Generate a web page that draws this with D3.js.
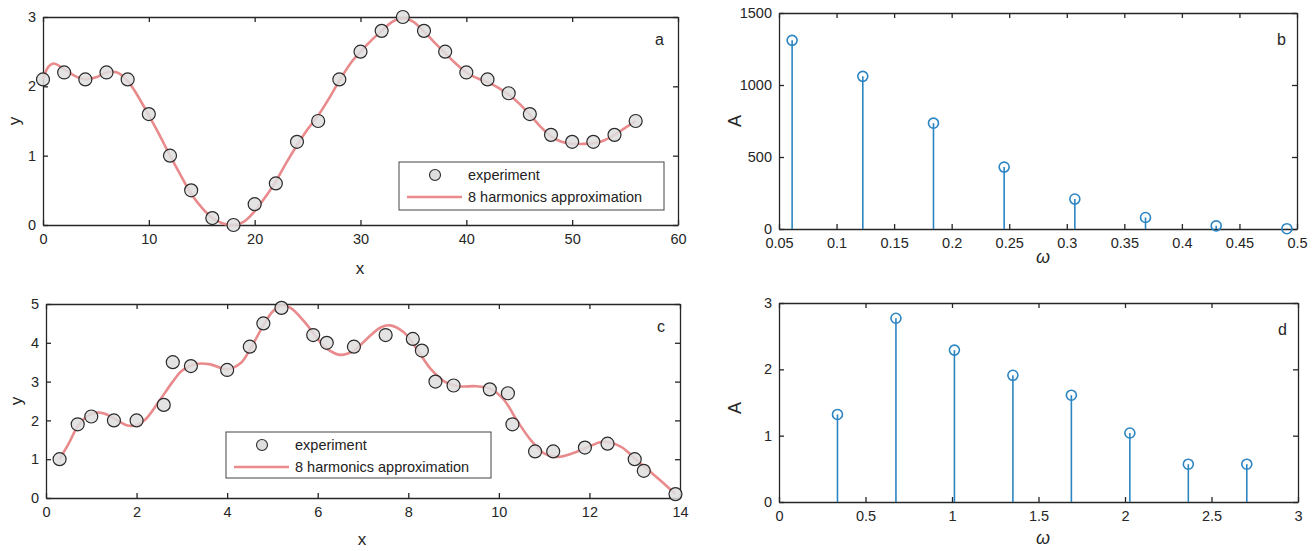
<!DOCTYPE html>
<html>
<head>
<meta charset="utf-8">
<script src="https://cdn.jsdelivr.net/npm/d3@7"></script>
<style>
  body { margin: 0; background: #ffffff; }
  svg { display: block; font-family: "Liberation Sans", Arial, sans-serif; }
</style>
</head>
<body>
<svg id="chart" width="1316" height="551"></svg>
<script>
// ---------- Data ----------
// Panel a: experiment points
const aX = [0,2,4,6,8,10,12,14,16,18,20,22,24,26,28,30,32,34,36,38,40,42,44,46,48,50,52,54,56];
const aY = [2.1,2.2,2.1,2.2,2.1,1.6,1.0,0.5,0.1,0.0,0.3,0.6,1.2,1.5,2.1,2.5,2.8,3.0,2.8,2.5,2.2,2.1,1.9,1.6,1.3,1.2,1.2,1.3,1.5];
// Panel a: 8 harmonics approximation
const aFitX = [0,0.5,1,2,3,4,5,6,7,8,9,10,11,12,13,14,15,16,17,18,19,20,21,22,23,24,25,26,27,28,29,30,31,32,33,34,35,36,37,38,39,40,41,42,43,44,45,46,47,48,49,50,51,52,53,54,55,56];
const aFitY = [2.1,2.28,2.33,2.25,2.15,2.1,2.13,2.2,2.2,2.08,1.85,1.58,1.3,1.0,0.72,0.45,0.25,0.1,0.02,0.0,0.05,0.2,0.4,0.63,0.9,1.15,1.38,1.58,1.82,2.08,2.32,2.5,2.66,2.8,2.93,2.98,2.93,2.79,2.63,2.48,2.33,2.2,2.12,2.06,1.98,1.88,1.75,1.59,1.42,1.28,1.2,1.17,1.17,1.18,1.22,1.3,1.4,1.5];

// Panel b: spectrum
const bW = [0.0614,0.1228,0.1842,0.2456,0.307,0.3684,0.4298,0.4912];
const bA = [1310,1060,735,430,208,80,22,2];

// Panel c: experiment points
const cX = [0.3,0.7,1.0,1.5,2.0,2.6,2.8,3.2,4.0,4.5,4.8,5.2,5.9,6.2,6.8,7.5,8.1,8.3,8.6,9.0,9.8,10.2,10.3,10.8,11.2,11.9,12.4,13.0,13.2,13.9];
const cY = [1.0,1.9,2.1,2.0,2.0,2.4,3.5,3.4,3.3,3.9,4.5,4.9,4.2,4.0,3.9,4.2,4.1,3.8,3.0,2.9,2.8,2.7,1.9,1.2,1.2,1.3,1.4,1.0,0.7,0.1];
// Panel c: 8 harmonics approximation
const cFitX = [0.3,0.5,0.7,0.9,1.1,1.3,1.5,1.8,2.0,2.2,2.5,2.8,3.0,3.3,3.6,4.0,4.3,4.5,4.8,5.0,5.2,5.4,5.7,6.0,6.2,6.5,6.8,7.1,7.4,7.6,7.9,8.2,8.5,8.8,9.1,9.5,9.8,10.1,10.4,10.7,11.0,11.3,11.6,12.0,12.3,12.7,13.0,13.3,13.6,13.9];
const cFitY = [1.0,1.4,1.85,2.1,2.2,2.17,2.05,1.87,1.88,2.03,2.5,3.0,3.28,3.45,3.45,3.32,3.48,3.82,4.45,4.8,4.96,4.9,4.55,4.1,3.85,3.69,3.8,4.12,4.4,4.45,4.27,3.82,3.32,3.0,2.88,2.88,2.82,2.55,2.0,1.5,1.15,1.06,1.14,1.33,1.45,1.32,1.02,0.72,0.42,0.1];

// Panel d: spectrum
const dW = [0.338,0.676,1.014,1.352,1.69,2.028,2.366,2.704];
const dA = [1.32,2.77,2.29,1.91,1.61,1.04,0.57,0.57];

// Tick values
const aXTicks = [0,10,20,30,40,50,60], aYTicks = [0,1,2,3];
const bXTicks = [0.05,0.1,0.15,0.2,0.25,0.3,0.35,0.4,0.45,0.5], bYTicks = [0,500,1000,1500];
const cXTicks = [0,2,4,6,8,10,12,14], cYTicks = [0,1,2,3,4,5];
const dXTicks = [0,0.5,1,1.5,2,2.5,3], dYTicks = [0,1,2,3];

const legendLabels = ["experiment", "8 harmonics approximation"];

// ---------- Drawing ----------
const svg = d3.select("#chart");
const AX = "#262626";
const FIT = "#e98a8c";
const STEM = "#2b85c2";

function frame(box, xDom, yDom, xTicks, yTicks, fmtX, fmtY) {
  const x = d3.scaleLinear().domain(xDom).range([box.l, box.r]);
  const y = d3.scaleLinear().domain(yDom).range([box.b, box.t]);
  const g = svg.append("g");
  const style = sel => {
    sel.selectAll("path.domain").attr("stroke", AX).attr("stroke-width", 1.3);
    sel.selectAll(".tick line").attr("stroke", AX).attr("stroke-width", 1.3);
    sel.selectAll(".tick text").attr("fill", AX).attr("font-size", 14.5).attr("font-family", "Liberation Sans, Arial, sans-serif");
  };
  g.append("g").attr("transform", `translate(0,${box.b})`)
    .call(d3.axisBottom(x).tickValues(xTicks).tickFormat(fmtX).tickSizeInner(-5).tickSizeOuter(0).tickPadding(9)).call(style);
  g.append("g").attr("transform", `translate(0,${box.t})`)
    .call(d3.axisTop(x).tickValues(xTicks).tickFormat("").tickSizeInner(-5).tickSizeOuter(0)).call(style);
  g.append("g").attr("transform", `translate(${box.l},0)`)
    .call(d3.axisLeft(y).tickValues(yTicks).tickFormat(fmtY).tickSizeInner(-5).tickSizeOuter(0).tickPadding(7)).call(style);
  g.append("g").attr("transform", `translate(${box.r},0)`)
    .call(d3.axisRight(y).tickValues(yTicks).tickFormat("").tickSizeInner(-5).tickSizeOuter(0)).call(style);
  return {x, y, g};
}

function fitPanel(box, xDom, yDom, xTicks, yTicks, px, py, fx, fy, letter, leg) {
  const {x, y} = frame(box, xDom, yDom, xTicks, yTicks, d3.format("d"), d3.format("d"));
  const pts = fx.map((v, i) => [v, fy[i]]);
  svg.append("path").datum(pts)
    .attr("d", d3.line().x(d => x(d[0])).y(d => y(d[1])).curve(d3.curveCatmullRom.alpha(0.5)))
    .attr("fill", "none").attr("stroke", FIT).attr("stroke-width", 2.6);
  svg.append("g").selectAll("circle").data(px.map((v, i) => [v, py[i]])).join("circle")
    .attr("cx", d => x(d[0])).attr("cy", d => y(d[1])).attr("r", 6.5)
    .attr("fill", "#dedede").attr("fill-opacity", 0.85).attr("stroke", "#2a2a2a").attr("stroke-width", 1.2);
  svg.append("text").attr("x", box.r - 23).attr("y", box.t + 28).attr("font-size", 16).attr("fill", AX).text(letter);
  // legend
  const lg = svg.append("g");
  lg.append("rect").attr("x", leg.x).attr("y", leg.y).attr("width", leg.w).attr("height", leg.h)
    .attr("fill", "#fff").attr("stroke", "#444").attr("stroke-width", 1);
  lg.append("circle").attr("cx", leg.x + 36).attr("cy", leg.y + 13).attr("r", 5.5)
    .attr("fill", "#dedede").attr("stroke", "#2a2a2a").attr("stroke-width", 1.1);
  lg.append("line").attr("x1", leg.x + 8).attr("x2", leg.x + 63).attr("y1", leg.y + 35).attr("y2", leg.y + 35)
    .attr("stroke", FIT).attr("stroke-width", 2.6);
  lg.append("text").attr("x", leg.x + 69).attr("y", leg.y + 18).attr("font-size", 14.5).attr("fill", "#222").text(legendLabels[0]);
  lg.append("text").attr("x", leg.x + 69).attr("y", leg.y + 40).attr("font-size", 14.5).attr("fill", "#222").text(legendLabels[1]);
}

function stemPanel(box, xDom, yDom, xTicks, yTicks, w, a, letter, fmtX) {
  const {x, y} = frame(box, xDom, yDom, xTicks, yTicks, fmtX, d3.format("d"));
  const data = w.map((v, i) => [v, a[i]]);
  const g = svg.append("g");
  g.selectAll("line").data(data).join("line")
    .attr("x1", d => x(d[0])).attr("x2", d => x(d[0]))
    .attr("y1", y(0)).attr("y2", d => y(d[1]))
    .attr("stroke", STEM).attr("stroke-width", 1.6);
  g.selectAll("circle").data(data).join("circle")
    .attr("cx", d => x(d[0])).attr("cy", d => y(d[1])).attr("r", 5)
    .attr("fill", "none").attr("stroke", STEM).attr("stroke-width", 1.6);
  svg.append("text").attr("x", box.r - 20).attr("y", box.t + 32).attr("font-size", 16).attr("fill", AX).text(letter);
}

const trimFmt = v => String(+v.toFixed(2));

fitPanel({l: 43, r: 678, t: 17, b: 225}, [0, 60], [0, 3], aXTicks, aYTicks, aX, aY, aFitX, aFitY, "a",
  {x: 399, y: 162, w: 265, h: 48});
stemPanel({l: 779, r: 1297, t: 13, b: 229}, [0.05, 0.5], [0, 1500], bXTicks, bYTicks, bW, bA, "b", trimFmt);
fitPanel({l: 46, r: 680, t: 304, b: 498}, [0, 14], [0, 5], cXTicks, cYTicks, cX, cY, cFitX, cFitY, "c",
  {x: 226, y: 432, w: 265, h: 46});
stemPanel({l: 779, r: 1298, t: 303, b: 502}, [0, 3], [0, 3], dXTicks, dYTicks, dW, dA, "d", trimFmt);

// axis labels
const lab = (x, y, t, rot, size, italic) => {
  const s = svg.append("text").attr("x", x).attr("y", y).attr("text-anchor", "middle")
    .attr("font-size", size || 17).attr("fill", AX).text(t);
  if (italic) s.attr("font-style", "italic");
  if (rot) s.attr("transform", `rotate(-90,${x},${y})`);
};
lab(360, 274, "x");
lab(20, 121, "y", true);
lab(362, 545, "x");
lab(22, 401, "y", true);
lab(741, 121, "A", true, 18);
lab(1043, 263, "ω", false, 18, true);
lab(741, 408, "A", true, 18);
lab(1043, 544, "ω", false, 18, true);
</script>
</body>
</html>
